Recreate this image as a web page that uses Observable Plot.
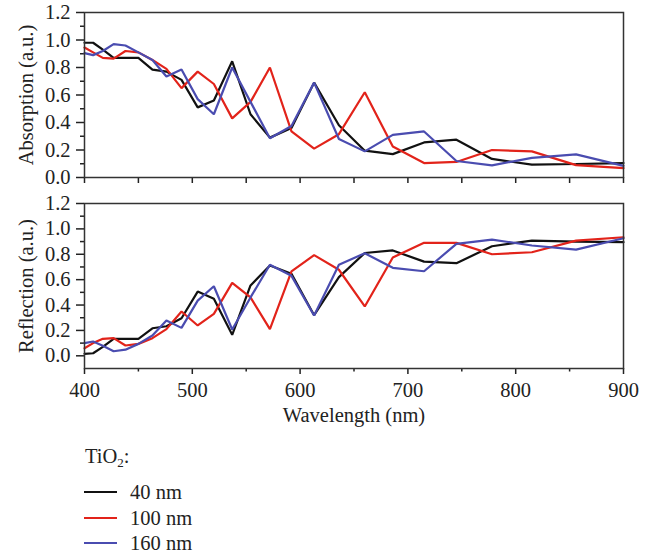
<!DOCTYPE html>
<html><head><meta charset="utf-8">
<script src="https://cdn.jsdelivr.net/npm/d3@7"></script>
<script src="https://cdn.jsdelivr.net/npm/@observablehq/plot@0.6"></script>
<style>
body{margin:0;background:#fff;}
#wrap{position:relative;width:663px;height:555px;font-family:"Liberation Serif",serif;color:#222;overflow:hidden;}
#wrap svg{display:block;}
.lt{position:absolute;font-size:20.5px;line-height:22px;white-space:nowrap;}
.sw{position:absolute;height:2px;}
sub{font-size:13px;vertical-align:-4px;line-height:0;}
</style></head><body>
<div id="wrap"><div id="top"></div><div id="bot"></div></div>
<script>
const wavelength = [400, 408, 417, 427, 438, 450, 463, 476, 490, 505, 520, 537, 554, 572, 592, 613, 636, 660, 686, 715, 745, 778, 815, 856, 900];
const seriesNames = ["40 nm", "100 nm", "160 nm"];
const seriesColors = ["#111111", "#e2231a", "#4a4cb0"];

const abs40  = [0.98, 0.98, 0.93, 0.87, 0.87, 0.87, 0.785, 0.77, 0.71, 0.51, 0.56, 0.845, 0.46, 0.29, 0.36, 0.69, 0.38, 0.195, 0.17, 0.255, 0.275, 0.135, 0.093, 0.098, 0.105];
const abs100 = [0.945, 0.91, 0.87, 0.865, 0.92, 0.91, 0.855, 0.79, 0.65, 0.77, 0.68, 0.43, 0.55, 0.80, 0.335, 0.21, 0.315, 0.62, 0.225, 0.105, 0.113, 0.20, 0.19, 0.09, 0.068];
const abs160 = [0.905, 0.89, 0.92, 0.97, 0.96, 0.91, 0.855, 0.735, 0.785, 0.57, 0.46, 0.80, 0.55, 0.285, 0.375, 0.69, 0.28, 0.19, 0.31, 0.335, 0.12, 0.088, 0.143, 0.168, 0.085];

const ref40  = [0.016, 0.02, 0.07, 0.134, 0.134, 0.134, 0.217, 0.233, 0.296, 0.506, 0.449, 0.165, 0.554, 0.711, 0.646, 0.32, 0.62, 0.81, 0.83, 0.742, 0.73, 0.863, 0.908, 0.90, 0.895];
const ref100 = [0.06, 0.10, 0.134, 0.139, 0.081, 0.094, 0.139, 0.21, 0.349, 0.239, 0.33, 0.575, 0.46, 0.21, 0.665, 0.793, 0.678, 0.389, 0.775, 0.89, 0.89, 0.80, 0.816, 0.908, 0.934];
const ref160 = [0.10, 0.113, 0.08, 0.036, 0.048, 0.094, 0.16, 0.278, 0.22, 0.435, 0.548, 0.207, 0.46, 0.717, 0.63, 0.317, 0.718, 0.808, 0.693, 0.666, 0.882, 0.916, 0.869, 0.837, 0.926];

const yMajor = [0, 0.2, 0.4, 0.6, 0.8, 1.0, 1.2];
const yMinor = [0.1, 0.3, 0.5, 0.7, 0.9, 1.1];
const xMajor = [400, 500, 600, 700, 800, 900];
const xMinor = [450, 550, 650, 750, 850];
const xTitle = "Wavelength (nm)";
const legendTitle = "TiO<sub>2</sub>:";

function panel(values, yDomain, yLabel, showX) {
  const rows = [];
  seriesNames.forEach((name, i) => wavelength.forEach((w, j) => rows.push({wavelength: w, value: values[i][j], series: name})));
  const height = showX ? 240 : 190;
  return Plot.plot({
    width: 663, height,
    marginLeft: 84, marginRight: 40,
    marginTop: showX ? 13 : 12, marginBottom: showX ? 62 : 13,
    style: {fontFamily: '"Liberation Serif", serif', fontSize: "20.5px", color: "#222", background: "white"},
    x: {domain: [400, 900]},
    y: {domain: yDomain},
    color: {domain: seriesNames, range: seriesColors},
    marks: [
      Plot.axisY(yMajor, {tickSize: 8, tickPadding: 6, tickFormat: d3.format(".1f"), strokeWidth: 1.5, label: null}),
      Plot.axisY(yMinor, {tickSize: 4, tickFormat: () => "", strokeWidth: 1.5, label: null}),
      Plot.axisX(xMajor, {tickSize: 6, tickPadding: 7.5, tickFormat: showX ? (d => String(d)) : (() => ""), strokeWidth: 1.5, label: null}),
      Plot.axisX(xMinor, {tickSize: showX ? 3.5 : 6, tickFormat: () => "", strokeWidth: 1.5, label: null}),
      Plot.line(rows, {x: "wavelength", y: "value", stroke: "series", z: "series", strokeWidth: 2.2, strokeLinejoin: "miter"}),
      Plot.frame({stroke: "#333", strokeWidth: 1.5}),
      Plot.text([yLabel], {frameAnchor: "left", textAnchor: "middle", dx: -58, rotate: -90, text: d => d, fontSize: 20.5, fill: "#222"}),
      showX ? Plot.text([xTitle], {frameAnchor: "bottom", textAnchor: "middle", dy: 53, text: d => d, fontSize: 20.5, fill: "#222"}) : null
    ]
  });
}

document.getElementById("top").append(panel([abs40, abs100, abs160], [0, 1.2], "Absorption (a.u.)", false));
document.getElementById("bot").append(panel([ref40, ref100, ref160], [-0.1, 1.2], "Reflection (a.u.)", true));

const wrap = document.getElementById("wrap");
const title = document.createElement("div");
title.className = "lt";
title.style.left = "85px"; title.style.top = "445px";
title.innerHTML = legendTitle;
wrap.append(title);
const rowY = [492, 518, 543];
seriesNames.forEach((name, i) => {
  const sw = document.createElement("div");
  sw.className = "sw";
  sw.style.left = "84px"; sw.style.width = "33px"; sw.style.top = (rowY[i] - 1) + "px";
  sw.style.background = seriesColors[i];
  wrap.append(sw);
  const t = document.createElement("div");
  t.className = "lt";
  t.style.left = "130px"; t.style.top = (rowY[i] - 11) + "px";
  t.textContent = name;
  wrap.append(t);
});
</script></body></html>
